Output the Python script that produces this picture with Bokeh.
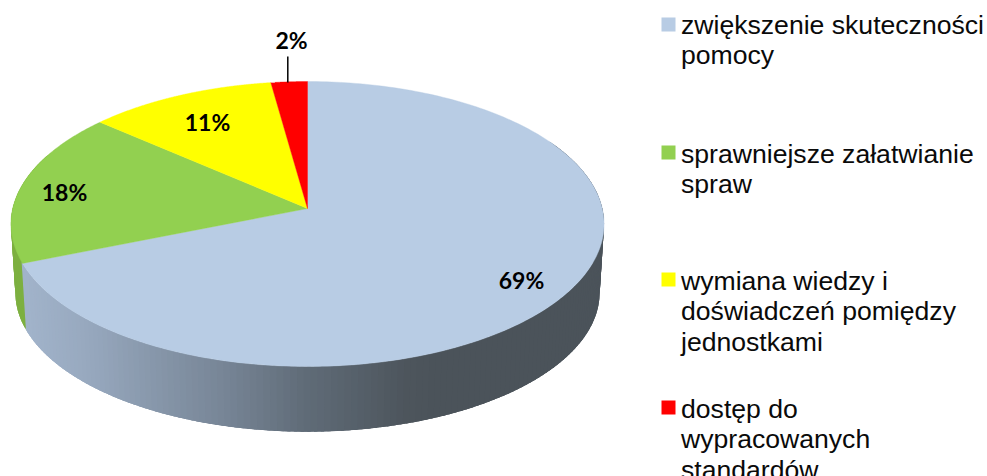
import numpy as np
from bokeh.plotting import figure
from bokeh.models import Range1d
from bokeh.core.properties import value
from bokeh.embed import file_html
from bokeh.resources import INLINE

categories = ["zwiększenie skuteczności pomocy", "sprawniejsze załatwianie spraw",
              "wymiana wiedzy i doświadczeń pomiędzy jednostkami", "dostęp do wypracowanych standardów"]
values = [68.9, 17.5, 11.4, 2.2]
pct_labels = ["69%", "18%", "11%", "2%"]
colors = ["#b8cce4", "#92d050", "#ffff00", "#ff0000"]
legend_lines = [["zwiększenie skuteczności", "pomocy"],
                ["sprawniejsze załatwianie", "spraw"],
                ["wymiana wiedzy i", "doświadczeń pomiędzy", "jednostkami"],
                ["dostęp do", "wypracowanych", "standardów"]]

W, H = 987, 476
p = figure(width=W, height=H, output_backend="svg", toolbar_location=None,
           x_axis_type=None, y_axis_type=None, min_border=0,
           x_range=Range1d(0, W), y_range=Range1d(H, 0))
p.grid.visible = False
p.outline_line_color = None
p.background_fill_color = "white"

# perspective disc projection
CX, CY, K, RX, RY = 307.0, 208.0, 0.1088, 294.8, 140.8
BOT_S, BOT_Y, BOT_RY = 0.985, 277.0, 137.4


def top(t):
    u, v = np.sin(t), np.cos(t)
    d = 1 + K * v
    return CX + RX * u / d, CY - RY * v / d


def bottom(t):
    u, v = np.sin(t), np.cos(t)
    d = 1 + K * v
    return CX + RX * BOT_S * u / d, BOT_Y - BOT_RY * v / d


stops_x = [20, 90, 160, 230, 307, 360, 410, 440, 610]
stops_c = [(0xa2, 0xb4, 0xcb), (0x97, 0xa8, 0xbe), (0x86, 0x96, 0xa9), (0x76, 0x84, 0x95),
           (0x60, 0x6c, 0x78), (0x56, 0x60, 0x6a), (0x4d, 0x55, 0x5c), (0x4b, 0x53, 0x5a), (0x4b, 0x53, 0x5a)]


def side_blue(x):
    c = [int(round(np.interp(x, stops_x, [s[i] for s in stops_c]))) for i in range(3)]
    return "#%02x%02x%02x" % tuple(c)


fracs = np.cumsum([0] + values) / sum(values) * 2 * np.pi


def wall(a0, a1, n, color_of):
    """Side wall as strips that overlap the next one, so no seams show."""
    xs, ys, cs = [], [], []
    strips = np.linspace(a0, a1, n)
    step = strips[1] - strips[0]
    for i in range(n - 1):
        a = strips[i]
        b = strips[i + 1] if i == n - 2 else strips[i + 1] + step * 1.5
        t = np.array([a, (a + b) / 2, b])
        x0, y0 = top(t)
        x1, y1 = bottom(t)
        xs.append(list(x0) + list(x1[::-1]))
        ys.append(list(y0) + list(y1[::-1]))
        cs.append(color_of(x0[0]))
    p.patches(xs, ys, fill_color=cs, line_color=None)


# the green wall comes first, the blue slice's wall ends against it
wall(fracs[1], fracs[1] + np.radians(45), 40, lambda x: "#7db040")
wall(np.radians(60), fracs[1], 160, side_blue)

# top faces
for i, c in enumerate(colors):
    t = np.linspace(fracs[i], fracs[i + 1], 240)
    x, y = top(t)
    p.patch([CX] + list(x), [CY] + list(y), fill_color=c, line_color=c, line_width=0.4)

# leader for the smallest slice
p.line([287.3, 287.3], [56, 82], line_color="black", line_width=1.5)

# value labels
label_x = [521, 64, 207, 291]
label_y = [279, 191, 121, 39]
p.text(label_x, label_y, text=pct_labels, text_font=value("Lato"), text_font_style="bold",
       text_font_size="23px", text_color="black", text_align="center", text_baseline="middle")

# legend
marker_top = [17, 145, 272, 400]
first_base = [32, 161, 288, 416]
for c, mt, fb, lines in zip(colors, marker_top, first_base, legend_lines):
    p.quad(left=661, right=675, top=mt, bottom=mt + 14, fill_color=c, line_color=None)
    p.text([680.5] * len(lines), [fb - 7.5 + 30.3 * i for i in range(len(lines))], text=lines,
           text_font=value("Liberation Sans"), text_font_size="26.6px", text_color="#0a0a0a",
           text_align="left", text_baseline="alphabetic")

open("out.html", "w").write(file_html(p, INLINE))
